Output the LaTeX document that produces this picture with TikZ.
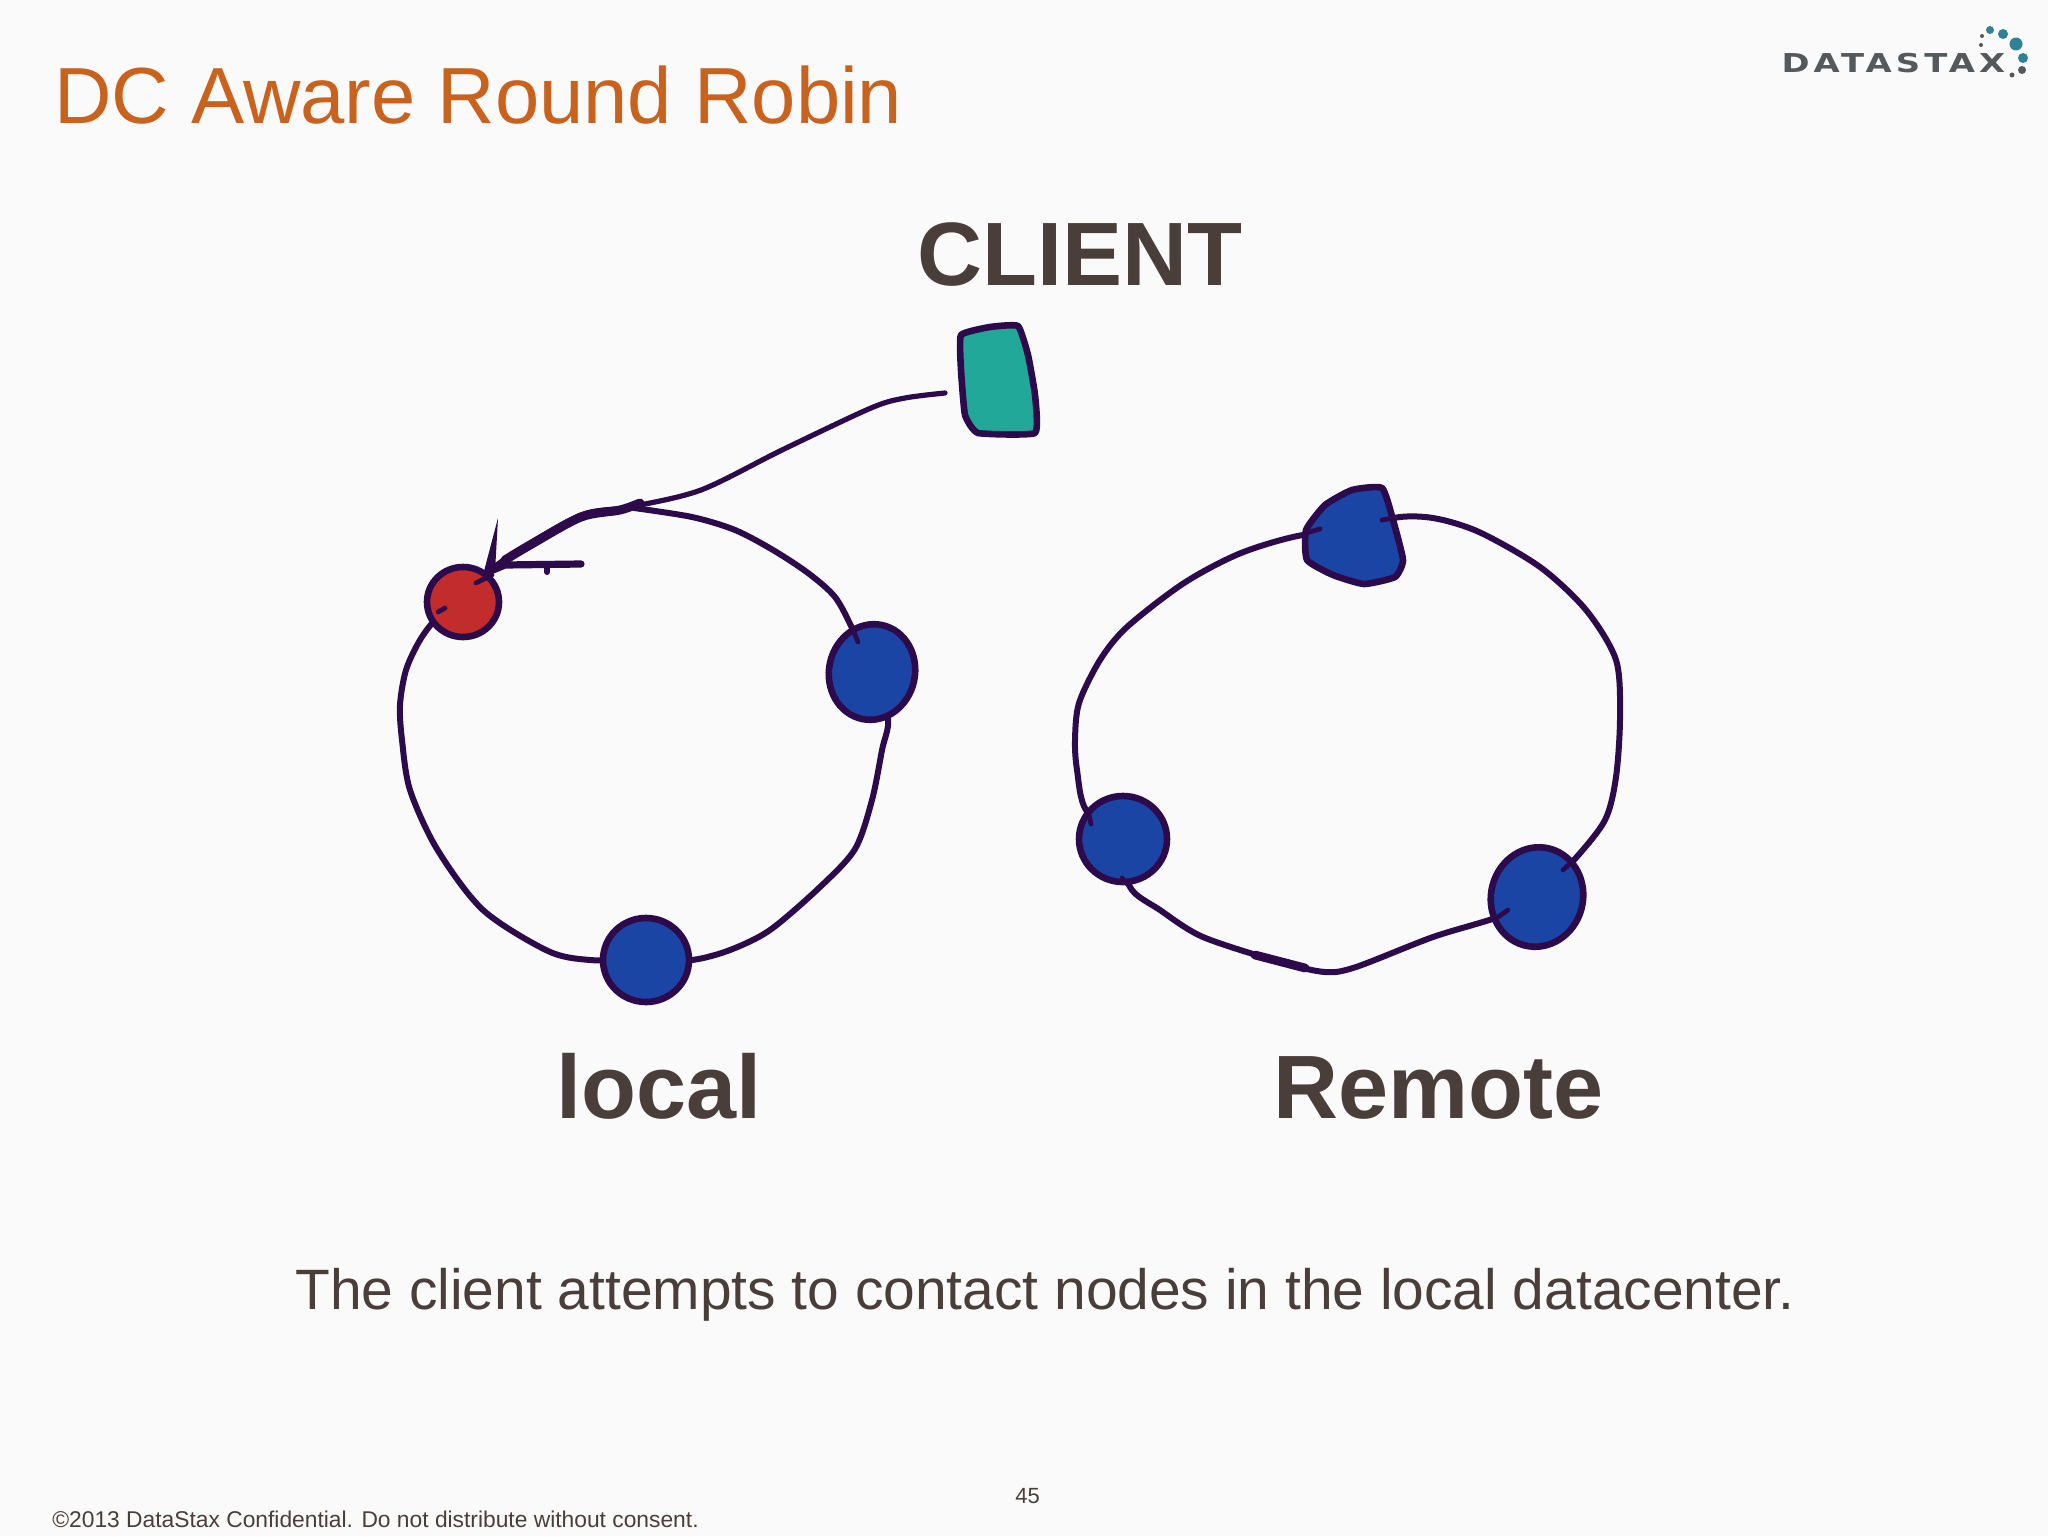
\documentclass[tikz,border=0pt]{standalone}
\usepackage{fontspec}
\setmainfont{Liberation Sans}
\newfontfamily\logofont[LetterSpace=12]{DejaVu Sans Bold}
\usetikzlibrary{shapes.geometric}
\pgfdeclarelayer{bglayer}
\pgfdeclarelayer{edgelayer}
\pgfsetlayers{bglayer,edgelayer,main}
\definecolor{pagebg}{HTML}{FBFAFA}
\definecolor{inkline}{HTML}{2C0A4C}
\definecolor{titlecol}{HTML}{C8621C}
\definecolor{textcol}{HTML}{4A3E3A}
\definecolor{nodeblue}{HTML}{1B45A5}
\definecolor{nodered}{HTML}{C22C2C}
\definecolor{clientcol}{HTML}{22A898}
\definecolor{logodot}{HTML}{2F8296}
\definecolor{logodark}{HTML}{55595C}
\tikzstyle{spot}=[ellipse,inner sep=0pt,line width=3.3pt,draw=inkline]
\tikzstyle{hidspot}=[ellipse,inner sep=0pt]
\tikzstyle{blob}=[line width=3.3pt,draw=inkline,line join=round]
\tikzstyle{ring}=[line width=3pt,draw=inkline,line cap=round,line join=round]
\tikzstyle{txt}=[anchor=base west,inner sep=0pt,text=textcol]
\tikzstyle{dot}=[circle,inner sep=0pt,fill=logodot]

\begin{document}
\begin{tikzpicture}[x=0.5pt,y=-0.5pt]
\useasboundingbox (0,0) rectangle (2048,1536);
\begin{pgfonlayer}{bglayer}
\fill[pagebg] (0,0) rectangle (2048,1536);
\end{pgfonlayer}

% labels
\node[txt,text=titlecol,font=\fontsize{39.8}{48}\selectfont] (title) at (54,124) {DC Aware Round Robin};
\node[txt,font=\fontsize{45}{52}\selectfont\bfseries] (client label) at (917,285) {CLIENT};
\node[txt,font=\fontsize{45}{52}\selectfont\bfseries] (local label) at (556,1118) {local};
\node[txt,font=\fontsize{45}{52}\selectfont\bfseries] (remote label) at (1273,1118) {Remote};
\node[txt,font=\fontsize{28.45}{34}\selectfont] (caption) at (295,1309) {The client attempts to contact nodes in the local datacenter.};
\node[txt,font=\fontsize{11}{13}\selectfont] (pageno) at (1015,1503) {45};
\node[txt,font=\fontsize{11.4}{14}\selectfont] (footer) at (52,1527) {©2013 DataStax Confidential. Do not distribute without consent.};

% logo
\node[txt,text=logodark,font=\logofont\fontsize{13}{16}\selectfont,xscale=1.3] (logo) at (1781,73) {DATASTAX};
\node[dot,minimum size=4pt] (d1) at (1990,30) {};
\node[dot,minimum size=5pt] (d2) at (2003,34) {};
\node[dot,minimum size=6.5pt] (d3) at (2016,44) {};
\node[dot,minimum size=5pt] (d4) at (2023,58) {};
\node[dot,minimum size=4pt,fill=logodark] (d5) at (2022,70) {};
\node[dot,minimum size=2.5pt,fill=logodark] (d6) at (2012,75) {};
\node[dot,minimum size=2pt,fill=logodark] (d7) at (1982,36) {};
\node[dot,minimum size=2pt,fill=logodark] (d8) at (1981,45) {};

% client
\node[hidspot,minimum width=38pt,minimum height=54pt] (client) at (997,380) {};
\draw[blob,fill=clientcol] plot[smooth cycle,tension=0.25] coordinates {(961,335) (990,327) (1018,326) (1028,355) (1035,395) (1035,433) (978,433) (965,415) (961,370)};

% local ring
\node[spot,fill=nodered,minimum width=36pt,minimum height=35pt] (lred) at (463,602) {};
\node[spot,fill=nodeblue,minimum width=43pt,minimum height=48pt,rotate=-12] (lright) at (872,672) {};
\node[spot,fill=nodeblue,minimum width=43pt,minimum height=42pt] (lbot) at (646,960) {};

% remote ring
\node[hidspot,minimum width=50pt,minimum height=48pt] (rtop) at (1354,535) {};
\draw[blob,fill=nodeblue] plot[smooth cycle,tension=0.3] coordinates {(1306,530) (1325,505) (1352,490) (1382,488) (1393,520) (1403,560) (1395,577) (1364,584) (1333,575) (1307,560)};
\node[spot,fill=nodeblue,minimum width=44pt,minimum height=43pt] (rleft) at (1123,839) {};
\node[spot,fill=nodeblue,minimum width=46pt,minimum height=50pt,rotate=-15] (rright) at (1537,897) {};

\coordinate (clientout) at (945,393);
\coordinate (ltop) at (634,508);
\coordinate (tip) at (488,572);
\coordinate (barbup) at (498,518);
\coordinate (barbright) at (581,564);

\begin{pgfonlayer}{edgelayer}
\draw[ring] plot[smooth] coordinates {(lred) (438,617) (420,640) (406,670) (400,705) (402,740) (410,790) (437,849) (483,910) (548,951) (590,960) (lbot)};
\draw[ring] plot[smooth] coordinates {(lbot) (692,960) (730,950) (770,930) (820,887) (855,849) (872,800) (882,750) (888,718) (lright)};
\draw[ring] plot[smooth] coordinates {(lright) (853,630) (835,597) (808,573) (773,550) (735,530) (692,517) (ltop)};
\draw[ring] plot[smooth] coordinates {(rtop) (1394,518) (1433,518) (1479,532) (1540,567) (1586,610) (1616,660) (1620,717) (1616,777) (1605,820) (1574,860) (rright)};
\draw[ring] plot[smooth] coordinates {(rright) (1498,917) (1433,937) (1356,967) (1325,972) (1280,962) (1203,937) (1160,910) (1130,887) (rleft)};
\draw[ring] plot[smooth] coordinates {(rleft) (1086,810) (1077,770) (1075,740) (1079,703) (1100,660) (1127,627) (1184,583) (1241,553) (1303,535) (rtop)};
\end{pgfonlayer}

% arrow from client
\draw[ring,line width=2.6pt] plot[smooth] coordinates {(clientout) (905,398) (871,408) (782,450) (701,490) (630,507) (581,515) (514,553) (tip)};
\draw[ring,line width=4.5pt] plot[smooth] coordinates {(640,503) (620,510) (581,517) (530,545) (505,560)};
\draw[ring,line width=4.4pt] (1255,955) -- (1305,968);
\fill[inkline] (483,575) -- (498,518) -- (495,572) -- cycle;
\draw[ring,line width=3.6pt] (tip) -- (505,565) -- (barbright);
\draw[ring] (547,566) -- (547,572);

% ink ticks into the nodes
\draw[ring,line width=2.4pt] (492,575) -- (476,583) (438,612) -- (445,608) (853,630) -- (858,642)
(1394,518) -- (1382,520) (1306,533) -- (1320,529) (1574,860) -- (1563,870) (1498,917) -- (1508,910)
(1088,810) -- (1091,824) (1130,887) -- (1122,878);
\end{tikzpicture}
\end{document}
